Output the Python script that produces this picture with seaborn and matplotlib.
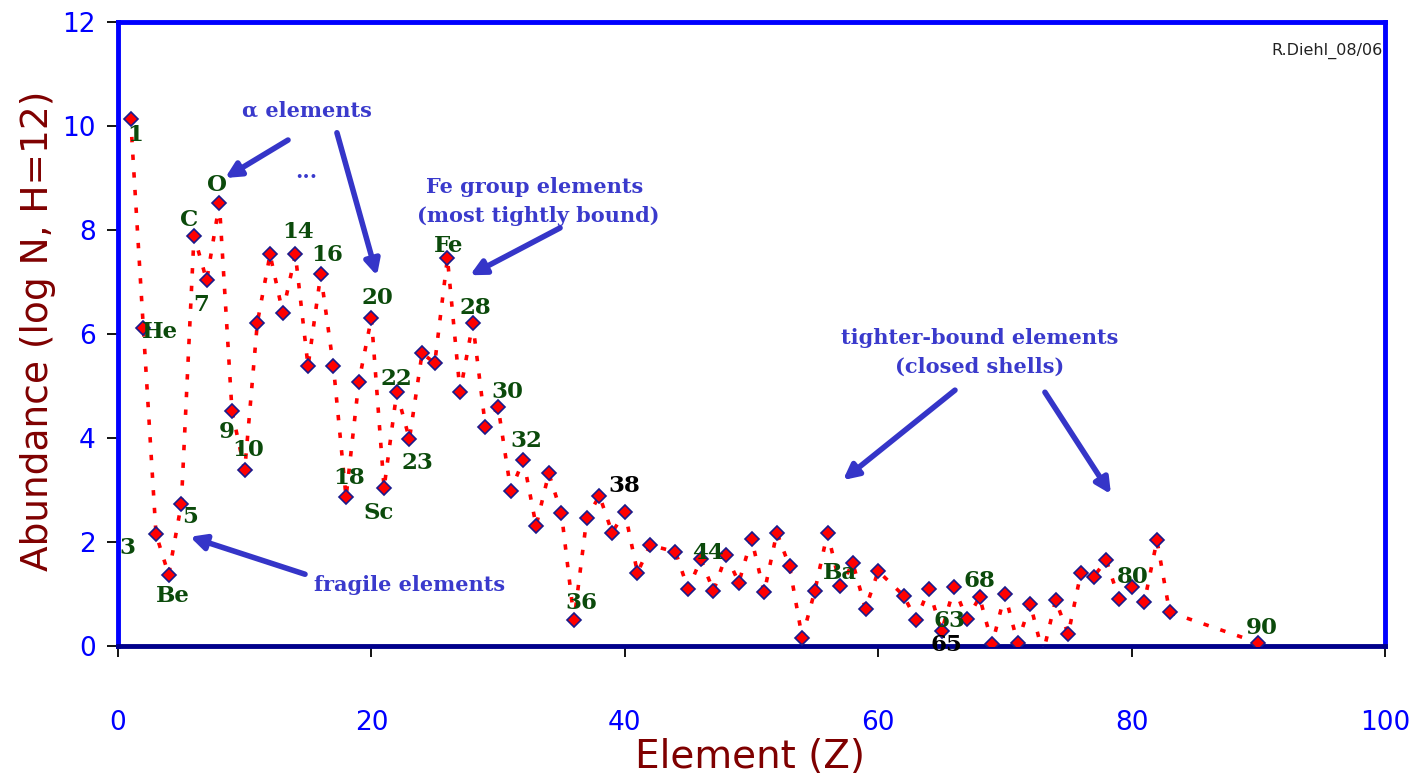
import numpy as np
import pandas as pd
import matplotlib
matplotlib.use("Agg")
import matplotlib.pyplot as plt
import seaborn as sns

# ---- data ----
Z = [1, 2, 3, 4, 5, 6, 7, 8, 9, 10,
     11, 12, 13, 14, 15, 16, 17, 18, 19, 20,
     21, 22, 23, 24, 25, 26, 27, 28, 29, 30,
     31, 32, 33, 34, 35, 36, 37, 38, 39, 40,
     41, 42, 44, 45, 46, 47, 48, 49, 50,
     51, 52, 53, 54, 55, 56, 57, 58, 59, 60,
     62, 63, 64, 65, 66, 67, 68, 69, 70,
     71, 72, 73, 74, 75, 76, 77, 78, 79, 80,
     81, 82, 83, 90]
abundance = [10.13, 6.12, 2.15, 1.37, 2.74, 7.89, 7.03, 8.51, 4.51, 3.38,
             6.22, 7.53, 6.41, 7.53, 5.38, 7.15, 5.38, 2.86, 5.07, 6.31,
             3.04, 4.88, 3.98, 5.63, 5.44, 7.46, 4.88, 6.21, 4.22, 4.60,
             2.99, 3.58, 2.31, 3.32, 2.55, 0.50, 2.46, 2.89, 2.18, 2.58,
             1.41, 1.94, 1.81, 1.09, 1.67, 1.06, 1.75, 1.22, 2.06,
             1.03, 2.18, 1.53, 0.16, 1.06, 2.18, 1.15, 1.59, 0.72, 1.44,
             0.97, 0.50, 1.10, 0.28, 1.13, 0.51, 0.94, 0.04, 1.00,
             0.06, 0.81, -0.15, 0.88, 0.23, 1.41, 1.33, 1.65, 0.91, 1.13,
             0.84, 2.03, 0.65, 0.06]

# point labels: text, Z, abundance
label_text = ["1", "He", "3", "Be", "5", "C", "7", "O", "9", "10",
              "14", "16", "18", "20", "Sc", "22", "23", "Fe", "28", "30",
              "32", "38", "36", "44", "Ba", "63", "65", "68", "80", "90"]
label_z = [1.34, 3.31, 0.71, 4.34, 5.68, 5.6, 6.55, 7.81, 8.6, 10.25,
           14.2, 16.5, 18.23, 20.44, 20.6, 22.0, 23.6, 26.1, 28.2, 30.7,
           32.2, 40.0, 36.6, 46.6, 57.0, 65.6, 65.4, 67.96, 80.1, 90.3]
label_y = [9.83, 6.04, 1.88, 0.96, 2.48, 8.19, 6.56, 8.87, 4.12, 3.76,
           7.96, 7.52, 3.23, 6.69, 2.56, 5.13, 3.52, 7.69, 6.5, 4.88,
           3.94, 3.08, 0.83, 1.79, 1.40, 0.48, 0.02, 1.25, 1.33, 0.35]
label_black = {"38", "65"}

# blue annotation texts
note_text = ["\u03b1 elements", "...", "Fe group elements", "(most tightly bound)",
             "tighter-bound elements", "(closed shells)", "fragile elements"]
note_z = [14.9, 14.84, 32.9, 33.15, 68.0, 68.0, 23.05]
note_y = [10.29, 9.12, 8.83, 8.27, 5.92, 5.37, 1.17]

# arrows: tail -> head
arrow_tail = [(13.42, 9.73), (17.28, 9.87), (34.89, 8.04), (66.06, 4.92), (73.16, 4.88), (14.76, 1.38)]
arrow_head = [(8.45, 9.0), (20.44, 7.12), (27.78, 7.13), (57.22, 3.19), (78.37, 2.92), (5.68, 2.10)]

xticks = [0, 20, 40, 60, 80, 100]
yticks = [0, 2, 4, 6, 8, 10, 12]

# ---- plot ----
sns.set_style("white")
plt.rcParams['font.family'] = ['DejaVu Sans']

W, H = 1422, 782
fig = plt.figure(figsize=(W / 100, H / 100), dpi=100)
L, R, T, B = 118, 1385, 22, 646
ax = fig.add_axes([L / W, 1 - B / H, (R - L) / W, (B - T) / H])

df = pd.DataFrame({"Z": Z, "abundance": abundance})
sns.lineplot(data=df, x="Z", y="abundance", ax=ax, sort=False,
             color="red", linewidth=2.6, linestyle=(0, (1.5, 3.4)),
             marker="D", markersize=7, markerfacecolor="red",
             markeredgecolor="#1a1a8c", markeredgewidth=1.2, zorder=3)

ax.set_xlim(0, 100)
ax.set_ylim(0, 12)
ax.set_xticks(xticks)
ax.set_yticks(yticks)
ax.set_xlabel("")
ax.set_ylabel("")
for s in ax.spines.values():
    s.set_color("#0000ff")
    s.set_linewidth(3.5)
    s.set_visible(True)
ax.spines['bottom'].set_color("#00008b")

ax.tick_params(axis="both", which="major", direction="out", length=8, width=1.3,
               color="black", labelcolor="#0000ff", labelsize=19, bottom=True, left=True)
ax.tick_params(axis="x", pad=38)
ax.tick_params(axis="y", pad=8)

ax.text(-0.063, 0.505, "Abundance (log N, H=12)", transform=ax.transAxes,
        rotation=90, ha="center", va="center", fontsize=27, color="#7f0000")
ax.text(0.499, -0.178, "Element (Z)", transform=ax.transAxes,
        ha="center", va="center", fontsize=28, color="#7f0000")

green = "#0b4a0b"
for t, zx, yy in zip(label_text, label_z, label_y):
    ax.text(zx, yy, t, ha="center", va="center", fontsize=16.5,
            family="DejaVu Serif", fontweight="bold",
            color=("black" if t in label_black else green), zorder=5, clip_on=False)

blue = "#3a3acc"
for t, zx, yy in zip(note_text, note_z, note_y):
    ax.text(zx, yy, t, ha="center", va="center", fontsize=15,
            family="DejaVu Serif", fontweight="bold", color=blue, zorder=5)

for (tx, ty), (hx, hy) in zip(arrow_tail, arrow_head):
    ax.annotate("", xy=(hx, hy), xytext=(tx, ty),
                arrowprops=dict(arrowstyle="-|>,head_length=0.9,head_width=0.45",
                                lw=4, color="#3535c8", shrinkA=0, shrinkB=0),
                zorder=4)

ax.text(0.9984, 0.953, "R.Diehl_08/06", transform=ax.transAxes,
        ha="right", va="center", fontsize=11.5, color="#222222")

fig.savefig("out.png", dpi=100, facecolor="white")
